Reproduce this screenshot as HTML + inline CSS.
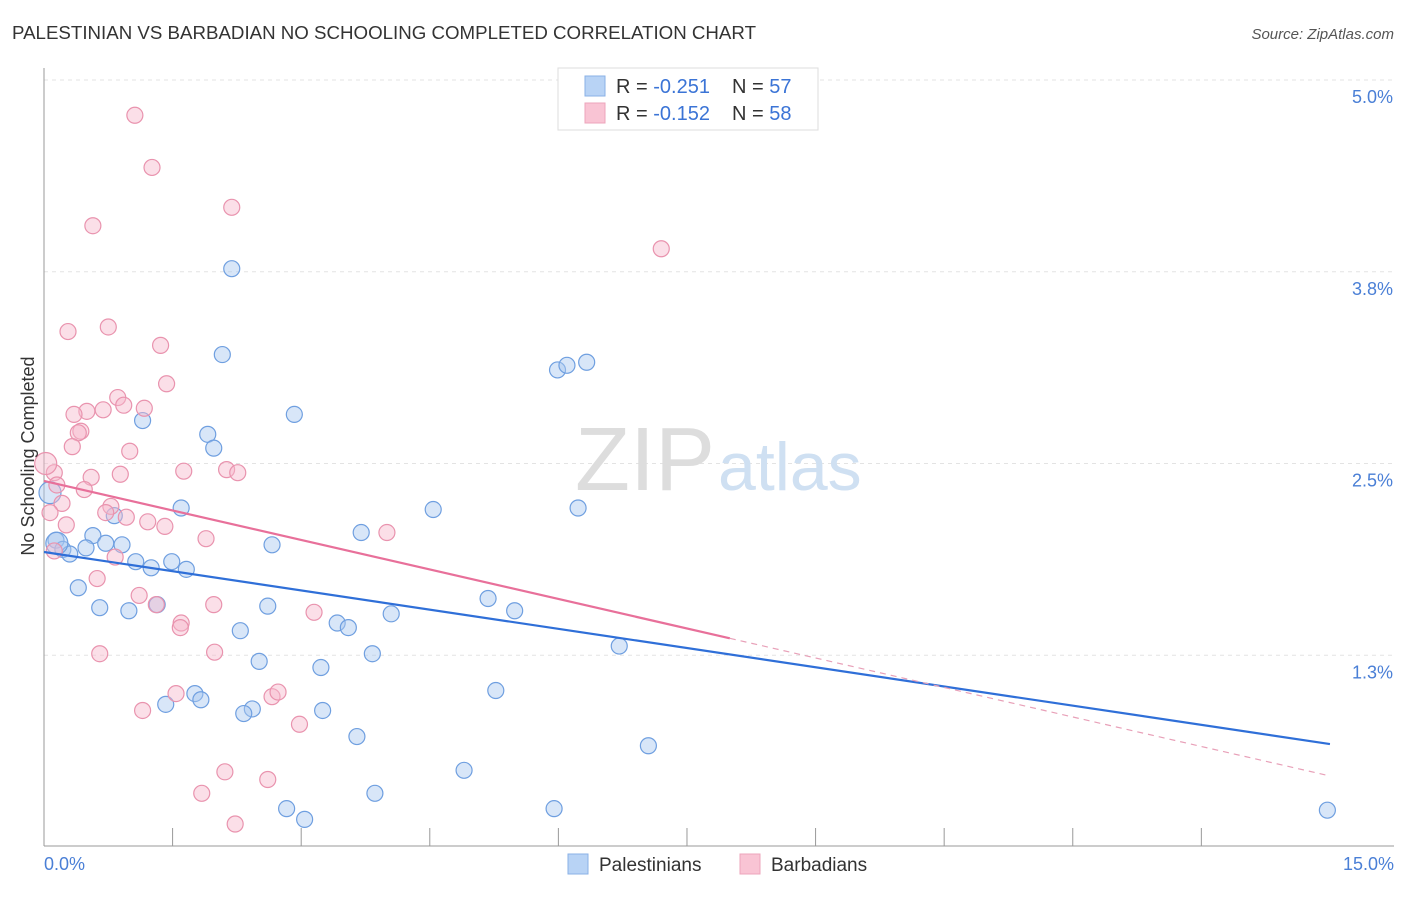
<!DOCTYPE html>
<html><head><meta charset="utf-8"><style>
body{margin:0;background:#fff;font-family:"Liberation Sans",sans-serif;}
svg text{font-family:"Liberation Sans",sans-serif;}
</style></head><body>
<svg width="1406" height="892">
<text x="12" y="39" font-size="18" fill="#333" textLength="744" lengthAdjust="spacingAndGlyphs">PALESTINIAN VS BARBADIAN NO SCHOOLING COMPLETED CORRELATION CHART</text>
<text x="1394" y="39" font-size="15" fill="#555" font-style="italic" text-anchor="end">Source: ZipAtlas.com</text>
<g id="grid"></g>
<text x="715" y="490" font-size="90" fill="#ddd" text-anchor="end" font-family="Liberation Serif">ZIP</text>
<text x="718" y="490" font-size="68" fill="#cfe0f2">atlas</text>
<line x1="44" y1="68" x2="44" y2="846" stroke="#999"/>
<line x1="44" y1="846" x2="1394" y2="846" stroke="#999"/>
<g id="ticks"></g>
<g id="pts"></g>
<g id="lines"></g>
<text x="34" y="456" font-size="18" fill="#333" transform="rotate(-90 34 456)" text-anchor="middle">No Schooling Completed</text>
<text x="44" y="870" font-size="18" fill="#4a7fd6">0.0%</text>
<text x="1394" y="870" font-size="18" fill="#4a7fd6" text-anchor="end">15.0%</text>
<g>
<rect x="558" y="68" width="260" height="62" fill="#fff" stroke="#ddd"/>
<rect x="585" y="76" width="20" height="20" fill="#b8d3f5" stroke="#8ab0e6"/>
<rect x="585" y="103" width="20" height="20" fill="#f9c4d4" stroke="#eda5bb"/>
<text x="616" y="93" font-size="20" fill="#333">R = <tspan fill="#3b74d6">-0.251</tspan></text>
<text x="732" y="93" font-size="20" fill="#333">N = <tspan fill="#3b74d6">57</tspan></text>
<text x="616" y="120" font-size="20" fill="#333">R = <tspan fill="#3b74d6">-0.152</tspan></text>
<text x="732" y="120" font-size="20" fill="#333">N = <tspan fill="#3b74d6">58</tspan></text>
</g>
<g>
<rect x="568" y="854" width="20" height="20" fill="#b8d3f5" stroke="#8ab0e6"/>
<text x="599" y="871" font-size="19" fill="#333">Palestinians</text>
<rect x="740" y="854" width="20" height="20" fill="#f9c4d4" stroke="#eda5bb"/>
<text x="771" y="871" font-size="19" fill="#333">Barbadians</text>
</g>
</svg>
<script>
const yTicks=[5.0,3.75,2.5,1.25];
const yTickLabels=["5.0%","3.8%","2.5%","1.3%"];
const xTicks=[1.5,3,4.5,6,7.5,9,10.5,12,13.5];
const blueX=[2.19,2.08,5.99,6.1,6.33,2.92,1.15,1.91,1.98,4.54,6.23,1.6,0.82,3.70,0.57,0.14,2.66,0.72,0.91,0.22,0.49,0.30,1.07,1.25,1.49,1.66,0.40,0.65,0.99,1.32,2.61,5.18,5.49,4.05,3.42,3.55,2.29,6.71,3.83,2.51,3.23,5.27,1.76,1.83,1.42,2.43,2.33,3.25,3.65,7.05,4.90,3.86,2.83,3.04,5.95,14.97,0.07,0.15];
const blueY=[3.77,3.21,3.11,3.14,3.16,2.82,2.78,2.69,2.60,2.20,2.21,2.21,2.16,2.05,2.03,2.00,1.97,1.98,1.97,1.94,1.95,1.91,1.86,1.82,1.86,1.81,1.69,1.56,1.54,1.58,1.57,1.62,1.54,1.52,1.46,1.43,1.41,1.31,1.26,1.21,1.17,1.02,1.00,0.96,0.93,0.90,0.87,0.89,0.72,0.66,0.50,0.35,0.25,0.18,0.25,0.24,2.31,1.98];
const pinkX=[1.06,1.26,2.19,0.57,7.20,0.75,0.28,1.36,1.43,0.86,0.93,0.50,0.69,1.17,0.35,0.43,0.40,0.33,1.00,1.63,2.13,2.26,0.12,0.55,0.89,0.15,0.47,0.21,0.78,0.72,0.96,1.21,1.41,0.26,0.07,4.00,1.89,0.12,0.83,0.62,1.11,1.31,1.98,3.15,1.60,1.59,0.65,1.99,1.54,2.66,2.73,1.15,2.98,2.11,2.61,1.84,2.23,0.02];
const pinkY=[4.77,4.43,4.17,4.05,3.90,3.39,3.36,3.27,3.02,2.93,2.88,2.84,2.85,2.86,2.82,2.71,2.70,2.61,2.58,2.45,2.46,2.44,2.44,2.41,2.43,2.36,2.33,2.24,2.22,2.18,2.15,2.12,2.09,2.10,2.18,2.05,2.01,1.93,1.89,1.75,1.64,1.58,1.58,1.53,1.46,1.43,1.26,1.27,1.00,0.98,1.01,0.89,0.80,0.49,0.44,0.35,0.15,2.50];
const blueLine=[1.923,0.671];
const pinkLine=[2.386,0.463];
const pinkSolidEnd=8.0;
const ns="http://www.w3.org/2000/svg";
const X=v=>44+v*85.73, Y=v=>80+(5-v)*153.4;
const mk=(t,a,p)=>{const e=document.createElementNS(ns,t);for(const k in a)e.setAttribute(k,a[k]);document.getElementById(p).appendChild(e);return e;};
yTicks.forEach((v,i)=>{
 const l=mk('line',{x1:44,x2:1394,y1:Y(v),y2:Y(v),stroke:'#e3e3e3','stroke-dasharray':'4,4'},'grid');
 
 
 const t=mk('text',{x:1393,y:Y(v)+23,'font-size':18,fill:'#4a7fd6','text-anchor':'end'},'grid');
 t.textContent=yTickLabels[i];
 
 
});
xTicks.forEach(v=>{
 const l=mk('line',{x1:X(v),x2:X(v),y1:828,y2:846,stroke:'#999'},'ticks');
 
 
});
function pts(xs,ys,fill,stroke,name){xs.forEach((x,i)=>{
 const big=(name==='palestinian-point'&&i>=xs.length-2)||(name==='barbadian-point'&&i===xs.length-1);
 const c=mk('circle',{cx:X(x),cy:Y(ys[i]),r:big?11:8,fill:fill,'fill-opacity':0.45,stroke:stroke,'stroke-width':1.2},'pts');
 
 
});}
pts(blueX,blueY,'#a9c8f0','#6f9fe0','palestinian-point');
pts(pinkX,pinkY,'#f7b9cc','#e993ae','barbadian-point');
const f=(L,x)=>L[0]+(L[1]-L[0])*x/15;
let l=mk('line',{x1:X(0),y1:Y(f(blueLine,0)),x2:X(15),y2:Y(f(blueLine,15)),stroke:'#2f6fd8','stroke-width':2.2},'lines');


l=mk('line',{x1:X(0),y1:Y(f(pinkLine,0)),x2:X(pinkSolidEnd),y2:Y(f(pinkLine,pinkSolidEnd)),stroke:'#e8709a','stroke-width':2.2},'lines');


l=mk('line',{x1:X(pinkSolidEnd),y1:Y(f(pinkLine,pinkSolidEnd)),x2:X(15),y2:Y(f(pinkLine,15)),stroke:'#e8a0b8','stroke-width':1.2,'stroke-dasharray':'6,5'},'lines');


</script>
</body></html>
